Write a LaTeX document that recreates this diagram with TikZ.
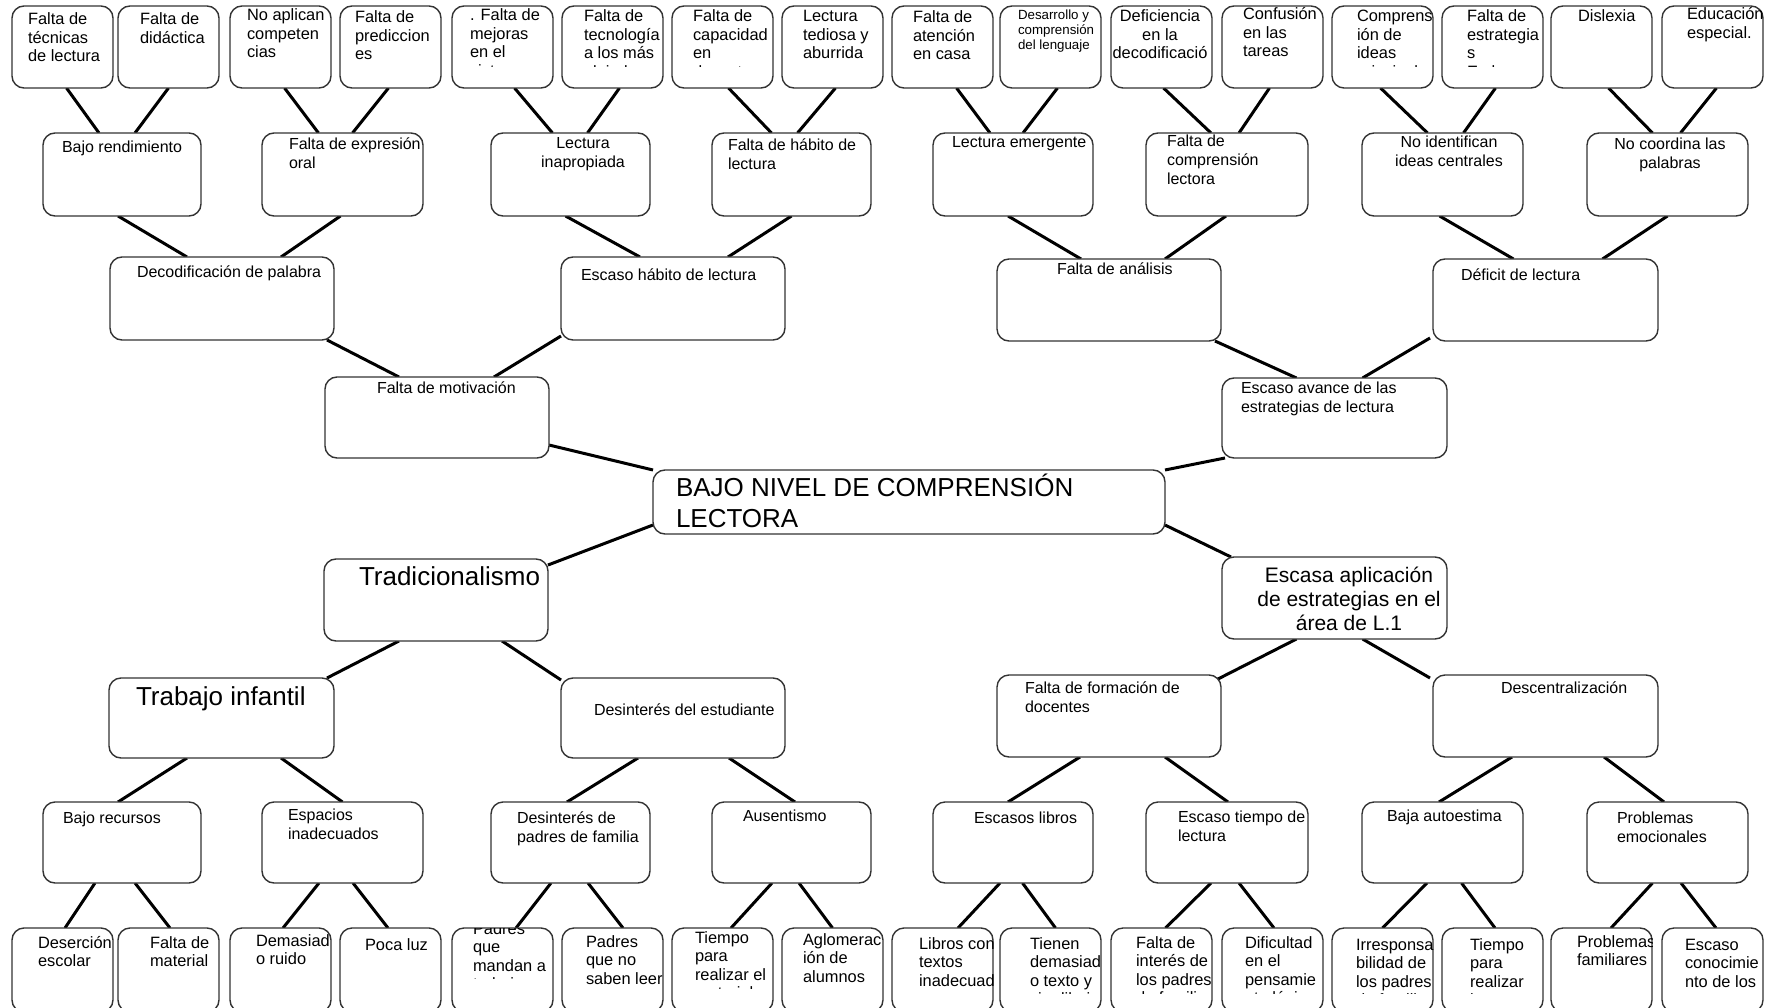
\documentclass[tikz,border=0pt]{standalone}
\usepackage{fontspec}
\setmainfont{Liberation Sans}
\usetikzlibrary{calc}
\pgfdeclarelayer{bg}
\pgfsetlayers{bg,main}
\tikzset{
 cbox/.style={draw=black!80, line width=1.4pt, rounded corners=12pt, fill=white, inner sep=0pt, outer sep=0pt},
 conn/.style={draw=black, line width=3pt},
 txt/.style={anchor=base west, inner sep=0pt, outer sep=0pt},
 txtc/.style={anchor=base, inner sep=0pt, outer sep=0pt},
 fsA/.style={font=\fontsize{16.4}{18.5}\selectfont},
 fsM/.style={font=\fontsize{16}{19}\selectfont},
 fsS/.style={font=\fontsize{13.3}{15}\selectfont},
 fsB/.style={font=\fontsize{26}{31}\selectfont},
 fsE/.style={font=\fontsize{21}{24}\selectfont},
}
\newcommand\mkbox[5]{%
  \pgfmathsetmacro\mkW{(#4)-(#2)}%
  \pgfmathsetmacro\mkH{(#5)-(#3)}%
  \pgfmathsetmacro\mkX{((#2)+(#4))/2}%
  \pgfmathsetmacro\mkY{((#3)+(#5))/2}%
  \node[cbox, minimum width=\mkW pt, minimum height=\mkH pt] (#1) at (\mkX,\mkY) {};%
}
\newcommand\txtL[5]{\node[txt,#2] (#1) at (#3,#4) {\begin{tabular}[t]{@{}l@{}}#5\end{tabular}};}
\newcommand\txtC[5]{\node[txtc,#2] (#1) at (#3,#4) {\begin{tabular}[t]{@{}c@{}}#5\end{tabular}};}
% clipped text: box, clip depth, name, style, colspec, x, y, lines
\newcommand\ctxt[8]{\begin{scope}\clip (#1.north west) rectangle ($(#1.north east)+(0,#2)$);\node[#4] (#3) at (#6,#7) {\begin{tabular}[t]{@{}#5@{}}#8\end{tabular}};\end{scope}}
\newcommand\lnk[4]{\draw[conn] ([xshift=#2pt]#1.south) -- ([xshift=#4pt]#3.north);}

\begin{document}
\begin{tikzpicture}[x=1pt,y=-1pt]
\clip (0,0) rectangle (1774,1008);
\begin{pgfonlayer}{bg}
\fill[white] (0,0) rectangle (1774,1008);
\end{pgfonlayer}

% ---------- boxes ----------
\foreach \n/\xl in {1/12,2/118,3/230,4/340,5/452,6/562,7/672,8/782,9/892,10/1000,11/1111,12/1222,13/1332,14/1442,15/1551,16/1662}{
  \mkbox{T\n}{\xl}{6}{\xl+101}{88}
  \mkbox{H\n}{\xl}{928}{\xl+101}{1012}
}
\foreach \n/\xa/\xb in {1/43/201,2/262/423,3/491/650,4/712/871,5/933/1093,6/1146/1308,7/1362/1523,8/1587/1748}{
  \mkbox{A\n}{\xa}{133}{\xb}{216}
  \mkbox{G\n}{\xa}{802}{\xb}{883}
}
\mkbox{B1}{110}{257}{334}{340}
\mkbox{B2}{561}{257}{785}{340}
\mkbox{B3}{997}{259}{1221}{341}
\mkbox{B4}{1433}{259}{1658}{341}
\mkbox{C1}{325}{377}{549}{458}
\mkbox{C2}{1222}{378}{1447}{458}
\mkbox{D}{653}{470}{1165}{534}
\mkbox{E1}{324}{559}{548}{641}
\mkbox{E2}{1222}{557}{1447}{639}
\mkbox{F1}{109}{678}{334}{758}
\mkbox{F2}{561}{678}{785}{758}
\mkbox{F3}{997}{675}{1221}{757}
\mkbox{F4}{1433}{675}{1658}{757}

% ---------- top row text ----------
\ctxt{T1}{61}{t1}{txt,fsA}{l}{28}{25}{Falta de\\técnicas\\de lectura}
\ctxt{T2}{61}{t2}{txt,fsA}{l}{140}{25}{Falta de\\didáctica}
\ctxt{T3}{61}{t3}{txt,fsA}{l}{247}{21}{No aplican\\competen\\cias}
\ctxt{T4}{61}{t4}{txt,fsA}{l}{355}{23}{Falta de\\prediccion\\es}
\ctxt{T5}{61}{t5}{txt,fsA}{l}{470}{21}{. Falta de\\mejoras\\en el\\sistema}
\ctxt{T6}{61}{t6}{txt,fsA}{l}{584}{22}{Falta de\\tecnología\\a los más\\alejados}
\ctxt{T7}{61}{t7}{txt,fsA}{l}{693}{22}{Falta de\\capacidad\\en\\docentes}
\ctxt{T8}{61}{t8}{txt,fsA}{l}{803}{22}{Lectura\\tediosa y\\aburrida}
\ctxt{T9}{61}{t9}{txt,fsA}{l}{913}{23}{Falta de\\atención\\en casa}
\ctxt{T10}{61}{t10}{txt,fsS}{l}{1018}{20}{Desarrollo y\\comprensión\\del lenguaje}
\ctxt{T11}{61}{t11}{txtc,fsA}{c}{1160}{22}{Deficiencia\\en la\\decodificació\\n}
\ctxt{T12}{61}{t12}{txt,fsA}{l}{1243}{20}{Confusión\\en las\\tareas}
\ctxt{T13}{61}{t13}{txt,fsA}{l}{1357}{22}{Comprens\\ión de\\ideas\\principales}
\ctxt{T14}{61}{t14}{txt,fsA}{l}{1467}{22}{Falta de\\estrategia\\s\\En la}
\ctxt{T15}{61}{t15}{txt,fsA}{l}{1578}{22}{Dislexia}
\ctxt{T16}{61}{t16}{txt,fsA}{l}{1687}{20}{Educación\\especial.}

% ---------- bottom row text ----------
\ctxt{H1}{65}{h1}{txt,fsA}{l}{38}{948}{Deserción\\escolar}
\ctxt{H2}{65}{h2}{txt,fsA}{l}{150}{948}{Falta de\\material}
\ctxt{H3}{65}{h3}{txt,fsA}{l}{256}{946}{Demasiad\\o ruido}
\ctxt{H4}{65}{h4}{txt,fsA}{l}{365}{950}{Poca luz}
\ctxt{H5}{50}{h5}{txt,fsA}{l}{473}{934}{Padres\\que\\mandan a\\trabajar}
\ctxt{H6}{65}{h6}{txt,fsA}{l}{586}{947}{Padres\\que no\\saben leer}
\ctxt{H7}{60}{h7}{txt,fsA}{l}{695}{943}{Tiempo\\para\\realizar el\\material}
\ctxt{H8}{65}{h8}{txt,fsA}{l}{803}{945}{Aglomerac\\ión de\\alumnos}
\ctxt{H9}{65}{h9}{txt,fsA}{l}{919}{949}{Libros con\\textos\\inadecuad\\os}
\ctxt{H10}{65}{h10}{txt,fsA}{l}{1030}{949}{Tienen\\demasiad\\o texto y\\sin dibujos}
\ctxt{H11}{65}{h11}{txt,fsA}{l}{1136}{948}{Falta de\\interés de\\los padres\\de familia}
\ctxt{H12}{65}{h12}{txt,fsA}{l}{1245}{948}{Dificultad\\en el\\pensamie\\nto lógico}
\ctxt{H13}{65}{h13}{txt,fsA}{l}{1356}{950}{Irresponsa\\bilidad de\\los padres\\de familia}
\ctxt{H14}{65}{h14}{txt,fsA}{l}{1470}{950}{Tiempo\\para\\realizar\\la tarea}
\ctxt{H15}{65}{h15}{txt,fsA}{l}{1577}{947}{Problemas\\familiares}
\ctxt{H16}{65}{h16}{txt,fsA}{l}{1685}{950}{Escaso\\conocimie\\nto de los\\temas}

% ---------- middle text ----------
\txtL{a1}{fsM}{62}{153}{Bajo rendimiento}
\txtL{a2}{fsM}{289}{150}{Falta de expresión\\oral}
\txtC{a3}{fsM}{583}{149}{Lectura\\inapropiada}
\txtL{a4}{fsM}{728}{151}{Falta de hábito de\\lectura}
\txtL{a5}{fsM}{952}{148}{Lectura emergente}
\txtL{a6}{fsM}{1167}{147}{Falta de\\comprensión\\lectora}
\txtC{a7}{fsM}{1449}{148}{No identifican\\ideas centrales}
\txtC{a8}{fsM}{1670}{150}{No coordina las\\palabras}
\txtL{b1}{fsM}{137}{277}{Decodificación de palabra}
\txtL{b2}{fsM}{581}{280}{Escaso hábito de lectura}
\txtL{b3}{fsM}{1057}{275}{Falta de análisis}
\txtL{b4}{fsM}{1461}{280}{Déficit de lectura}
\txtL{c1}{fsM}{377}{393}{Falta de motivación}
\txtL{c2}{fsM}{1241}{393}{Escaso avance de las\\estrategias de lectura}
\txtL{dd}{fsB}{676}{496}{BAJO NIVEL DE COMPRENSIÓN\\LECTORA}
\txtL{e1}{fsB}{359}{585}{Tradicionalismo}
\txtC{e2}{fsE}{1349}{582}{Escasa aplicación\\de estrategias en el\\área de L.1}
\txtL{f1}{fsB}{136}{705}{Trabajo infantil}
\txtL{f2}{fsM}{594}{715}{Desinterés del estudiante}
\txtL{f3}{fsM}{1025}{693}{Falta de formación de\\docentes}
\txtL{f4}{fsM}{1501}{693}{Descentralización}
\txtL{g1}{fsM}{63}{823}{Bajo recursos}
\txtL{g2}{fsM}{288}{820}{Espacios\\inadecuados}
\txtL{g3}{fsM}{517}{823}{Desinterés de\\padres de familia}
\txtL{g4}{fsM}{743}{821}{Ausentismo}
\txtL{g5}{fsM}{974}{823}{Escasos libros}
\txtL{g6}{fsM}{1178}{822}{Escaso tiempo de\\lectura}
\txtL{g7}{fsM}{1387}{821}{Baja autoestima}
\txtL{g8}{fsM}{1617}{823}{Problemas\\emocionales}

% ---------- connectors ----------
\begin{pgfonlayer}{bg}
\lnk{T1}{4}{A1}{-23}   \lnk{T2}{0}{A1}{13}
\lnk{T3}{4}{A2}{-24}   \lnk{T4}{-2}{A2}{10}
\lnk{T5}{12}{A3}{-18}  \lnk{T6}{7}{A3}{17}
\lnk{T7}{6}{A4}{-20}   \lnk{T8}{3}{A4}{6}
\lnk{T9}{14}{A5}{-23}  \lnk{T10}{7}{A5}{10}
\lnk{T11}{2}{A6}{-16}  \lnk{T12}{-3}{A6}{12}
\lnk{T13}{-2}{A7}{-15} \lnk{T14}{3}{A7}{21}
\lnk{T15}{7}{A8}{-15}  \lnk{T16}{4}{A8}{13}

\lnk{A1}{-4}{B1}{-35}  \lnk{A2}{-2}{B1}{59}
\lnk{A3}{-5}{B2}{-33}  \lnk{A4}{0}{B2}{55}
\lnk{A5}{-5}{B3}{-28}  \lnk{A6}{-1}{B3}{56}
\lnk{A7}{-3}{B4}{-32}  \lnk{A8}{0}{B4}{57}

\draw[conn] ([xshift=-7pt]B1.south east) -- ([xshift=-38pt]C1.north);
\draw[conn] ([yshift=4pt]B2.south west) -- ([xshift=57pt]C1.north);
\draw[conn] ([xshift=-6pt]B3.south east) -- ([xshift=-38pt]C2.north);
\draw[conn] ([xshift=-3pt,yshift=3pt]B4.south west) -- ([xshift=28pt]C2.north);

\draw[conn] ([yshift=-27.5pt]C1.east) -- (D.north west);
\draw[conn] ([xshift=3pt]C2.south west) -- (D.north east);
\draw[conn] ([yshift=-23pt]D.west) -- ([yshift=35pt]E1.east);
\draw[conn] ([yshift=-23pt]D.east) -- ([xshift=9pt]E2.north west);

\draw[conn] ([xshift=-37pt]E1.south) -- ([xshift=-7pt]F1.north east);
\draw[conn] ([xshift=66pt]E1.south) -- ([yshift=-2pt]F2.north west);
\draw[conn] ([xshift=-38pt]E2.south) -- ([xshift=-5pt,yshift=-5pt]F3.north east);
\draw[conn] ([xshift=28pt]E2.south) -- ([xshift=-3pt,yshift=-3pt]F4.north west);

\lnk{F1}{-34.5}{G1}{-4}  \lnk{F1}{59.5}{G2}{0}
\lnk{F2}{-35}{G3}{-3.5}  \lnk{F2}{56}{G4}{3.5}
\lnk{F3}{-29}{G5}{-5}    \lnk{F3}{56}{G6}{1}
\lnk{F4}{-33.5}{G7}{-3.5} \lnk{F4}{58.5}{G8}{-3.5}

\lnk{G1}{-27}{H1}{2.5}   \lnk{G1}{13}{H2}{1.5}
\lnk{G2}{-23.5}{H3}{2.5} \lnk{G2}{10.5}{H4}{-2.5}
\lnk{G3}{-19.5}{H5}{13.5} \lnk{G3}{17.5}{H6}{10.5}
\lnk{G4}{-19.5}{H7}{8.5} \lnk{G4}{7.5}{H8}{0}
\lnk{G5}{-13}{H9}{15.5}  \lnk{G5}{9.5}{H10}{5}
\lnk{G6}{-16}{H11}{4}    \lnk{G6}{12}{H12}{1.5}
\lnk{G7}{-15.5}{H13}{0}  \lnk{G7}{19}{H14}{2.5}
\lnk{G8}{-15}{H15}{9.5}  \lnk{G8}{13.5}{H16}{3.5}
\end{pgfonlayer}
\end{tikzpicture}
\end{document}
